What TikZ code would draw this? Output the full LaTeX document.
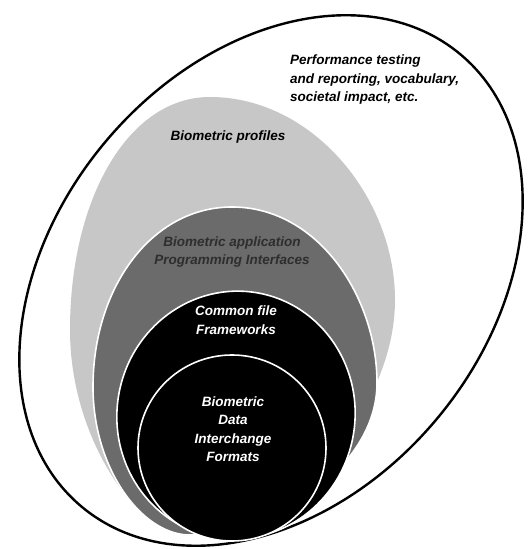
\documentclass[tikz,border=0pt]{standalone}
\usepackage{fontspec}
\setmainfont{Liberation Sans}
\usepackage{tikz}
\usetikzlibrary{positioning}

\begin{document}
\begin{tikzpicture}[x=1pt, y=1pt,
        lbl/.style={font=\fontsize{13.5}{18.5}\selectfont\bfseries\itshape, align=center, inner sep=0pt},
        ring/.style={draw=white, line width=1.6pt}]
        \useasboundingbox (0,0) rectangle (530,549);

        % Layers, from the outside in
        \draw[line width=2.4pt, fill=white] (271,268.5) ellipse [x radius=295, y radius=216, rotate=50];
        \fill[black!22] (210,452) .. controls (312,452) and (395,352) .. (395,249)
            .. controls (395,140) and (290,16) .. (178,18)
            .. controls (138,19) and (70,110) .. (70,219)
            .. controls (70,350) and (128,452) .. (210,452) -- cycle;
        \filldraw[ring, fill=black!58] (232,342) .. controls (318,342) and (377,252) .. (377,166)
            .. controls (377,80) and (270,14) .. (188,14)
            .. controls (140,16) and (93,82) .. (93,162)
            .. controls (93,262) and (152,342) .. (232,342) -- cycle;
        \filldraw[ring, fill=black] (236,134) ellipse [x radius=119, y radius=124, rotate=-10];
        \filldraw[ring, fill=black] (232,101) ellipse [x radius=94, y radius=93];

        \node[lbl, align=left, anchor=west] (perf) at (290,469) {Performance testing\\and reporting, vocabulary,\\societal impact, etc.};
        \node[lbl] (profiles) at (228,412) {Biometric profiles};
        \node[lbl, text=black!82] (api) at (232,297) {Biometric application\\Programming Interfaces};
        \node[lbl, text=white] (cff) at (236,229) {Common file\\Frameworks};
        \node[lbl, text=white] (bdif) at (233,120) {Biometric\\Data\\Interchange\\Formats};
    \end{tikzpicture}
\end{document}
